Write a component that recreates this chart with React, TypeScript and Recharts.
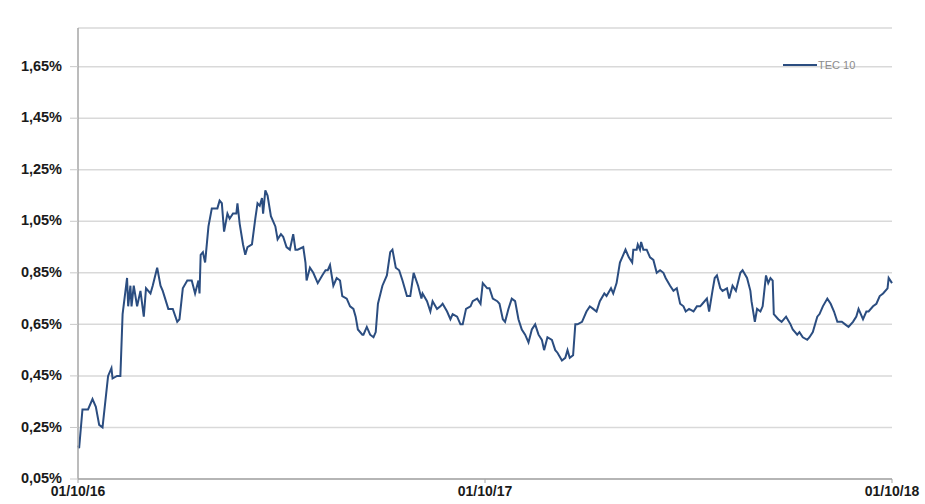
import React from 'react';
import { LineChart, Line, XAxis, YAxis, CartesianGrid, Legend } from 'recharts';

// Days elapsed since 01/10/2016
const days = [
  0, 1, 4, 9, 13, 16, 19, 22, 26, 27, 30, 31, 35, 38, 40, 44, 45, 47, 48, 50,
  53, 56, 59, 61, 65, 67, 71, 74, 76, 81, 85, 89, 91, 94, 98, 102, 105, 108, 109, 110,
  112, 114, 117, 120, 125, 127, 129, 131, 134, 136, 139, 142, 143, 145, 148, 150, 152, 156, 159, 161,
  163, 165, 166, 168, 170, 173, 177, 179, 182, 184, 187, 190, 193, 195, 197, 202, 204, 205, 208, 211,
  215, 219, 222, 224, 226, 229, 232, 235, 237, 241, 244, 247, 249, 251, 255, 256, 259, 262, 265, 267,
  269, 273, 277, 280, 282, 285, 288, 291, 295, 298, 301, 305, 308, 309, 313, 316, 318, 322, 325, 327,
  331, 334, 336, 340, 343, 345, 348, 352, 354, 358, 361, 363, 367, 369, 372, 376, 378, 381, 383, 386,
  389, 392, 395, 398, 401, 404, 407, 410, 413, 416, 418, 421, 425, 428, 430, 434, 437, 439, 441, 444,
  446, 448, 452, 456, 459, 462, 465, 468, 472, 474, 478, 480, 483, 486, 489, 491, 494, 497, 498, 501,
  502, 504, 505, 507, 510, 513, 516, 519, 522, 525, 527, 531, 534, 537, 540, 543, 545, 548, 552, 555,
  558, 560, 564, 566, 569, 571, 573, 576, 578, 582, 584, 587, 590, 594, 596, 600, 603, 604, 607, 609,
  612, 614, 617, 619, 621, 623, 624, 628, 631, 635, 639, 641, 645, 647, 650, 654, 656, 659, 663, 665,
  668, 672, 675, 678, 681, 685, 688, 691, 695, 698, 700, 704, 707, 709, 713, 716, 719, 722, 726, 727,
  730,
];

// TEC 10 yield (%)
const tec10 = [
  0.18, 0.17, 0.32, 0.32, 0.36, 0.33, 0.26, 0.25, 0.41, 0.45, 0.48, 0.44, 0.45, 0.45, 0.69, 0.83, 0.72, 0.80, 0.72, 0.80,
  0.72, 0.78, 0.68, 0.79, 0.77, 0.80, 0.87, 0.80, 0.78, 0.71, 0.71, 0.66, 0.67, 0.79, 0.82, 0.82, 0.77, 0.82, 0.77, 0.92,
  0.93, 0.89, 1.03, 1.10, 1.10, 1.13, 1.12, 1.01, 1.08, 1.06, 1.08, 1.08, 1.12, 1.04, 0.96, 0.92, 0.95, 0.96, 1.06, 1.12,
  1.11, 1.14, 1.08, 1.17, 1.15, 1.07, 1.03, 0.98, 1.00, 0.99, 0.95, 0.94, 1.00, 0.94, 0.94, 0.95, 0.89, 0.82, 0.87, 0.85,
  0.81, 0.84, 0.86, 0.86, 0.88, 0.80, 0.83, 0.82, 0.76, 0.75, 0.72, 0.71, 0.68, 0.63, 0.61, 0.61, 0.64, 0.61, 0.60, 0.62,
  0.73, 0.80, 0.84, 0.93, 0.94, 0.87, 0.86, 0.82, 0.76, 0.76, 0.85, 0.80, 0.75, 0.77, 0.74, 0.70, 0.74, 0.71, 0.72, 0.73,
  0.70, 0.67, 0.69, 0.68, 0.65, 0.65, 0.71, 0.72, 0.74, 0.75, 0.73, 0.81, 0.79, 0.79, 0.75, 0.74, 0.73, 0.67, 0.66, 0.71,
  0.75, 0.74, 0.67, 0.63, 0.61, 0.58, 0.63, 0.65, 0.61, 0.59, 0.55, 0.60, 0.59, 0.55, 0.54, 0.51, 0.52, 0.55, 0.52, 0.53,
  0.65, 0.65, 0.66, 0.70, 0.72, 0.71, 0.70, 0.74, 0.77, 0.76, 0.79, 0.77, 0.81, 0.89, 0.92, 0.94, 0.91, 0.89, 0.94, 0.94,
  0.96, 0.94, 0.97, 0.94, 0.94, 0.91, 0.90, 0.85, 0.86, 0.85, 0.83, 0.80, 0.78, 0.79, 0.73, 0.72, 0.70, 0.71, 0.70, 0.72,
  0.72, 0.73, 0.75, 0.70, 0.78, 0.83, 0.84, 0.79, 0.78, 0.79, 0.75, 0.80, 0.78, 0.85, 0.86, 0.83, 0.78, 0.74, 0.66, 0.71,
  0.70, 0.72, 0.84, 0.81, 0.83, 0.82, 0.69, 0.67, 0.66, 0.68, 0.65, 0.63, 0.61, 0.62, 0.60, 0.59, 0.60, 0.62, 0.68, 0.69,
  0.72, 0.75, 0.73, 0.70, 0.66, 0.66, 0.65, 0.64, 0.66, 0.68, 0.71, 0.67, 0.70, 0.70, 0.72, 0.73, 0.76, 0.77, 0.79, 0.83,
  0.81,
];

const xTickDays = [0, 365, 730];
const xTickLabels = ['01/10/16', '01/10/17', '01/10/18'];
const yTicks = [0.05, 0.25, 0.45, 0.65, 0.85, 1.05, 1.25, 1.45, 1.65];
const seriesName = 'TEC 10';

const data = days.map((d, i) => ({ day: d, value: tec10[i] }));

const fmtY = (v: number) => v.toFixed(2).replace('.', ',') + '%';
const fmtX = (v: number) => xTickLabels[xTickDays.indexOf(v)] ?? '';

const LegendContent = () => (
  <div style={{ display: 'flex', alignItems: 'center', fontFamily: 'Liberation Sans, Arial, sans-serif', fontSize: 11, color: '#8c8c8c' }}>
    <svg width={34} height={6} style={{ display: 'block' }}>
      <line x1={0} y1={3} x2={34} y2={3} stroke="#2b4d80" strokeWidth={2} />
    </svg>
    <span style={{ marginLeft: 1 }}>{seriesName}</span>
  </div>
);

export default function App() {
  return (
    <div style={{ position: 'absolute', left: 0, top: 0, background: '#fff' }}>
      <LineChart
        width={925}
        height={504}
        data={data}
        margin={{ top: 16, right: 33, left: 8, bottom: 5 }}
      >
        <CartesianGrid horizontal vertical={false} stroke="#d9d9d9" strokeWidth={1.5} />
        <XAxis
          dataKey="day"
          type="number"
          domain={[0, 730]}
          ticks={xTickDays}
          tickFormatter={fmtX}
          height={20}
          axisLine={{ stroke: '#a6a6a6', strokeWidth: 1.5 }}
          tickLine={{ stroke: '#a6a6a6' }}
          tickSize={4}
          tickMargin={3}
          interval={0}
          tick={{ fill: '#1a1a1a', fontSize: 14, fontWeight: 'bold', fontFamily: 'Liberation Sans, Arial, sans-serif' }}
        />
        <YAxis
          type="number"
          domain={[0.05, 1.8]}
          ticks={yTicks}
          tickFormatter={fmtY}
          width={70}
          interval={0}
          axisLine={{ stroke: '#a6a6a6', strokeWidth: 1.5 }}
          tickLine={{ stroke: '#c8c8c8' }}
          tickSize={8}
          tickMargin={8}
          tick={{ fill: '#1a1a1a', fontSize: 14.5, fontWeight: 'bold', fontFamily: 'Liberation Sans, Arial, sans-serif', dy: -1 }}
        />
        <Legend
          verticalAlign="top"
          align="left"
          content={<LegendContent />}
          wrapperStyle={{ top: 59, left: 783, width: 100 }}
        />
        <Line
          type="linear"
          dataKey="value"
          name={seriesName}
          stroke="#2b4d80"
          strokeWidth={2}
          dot={false}
          isAnimationActive={false}
        />
      </LineChart>
    </div>
  );
}
